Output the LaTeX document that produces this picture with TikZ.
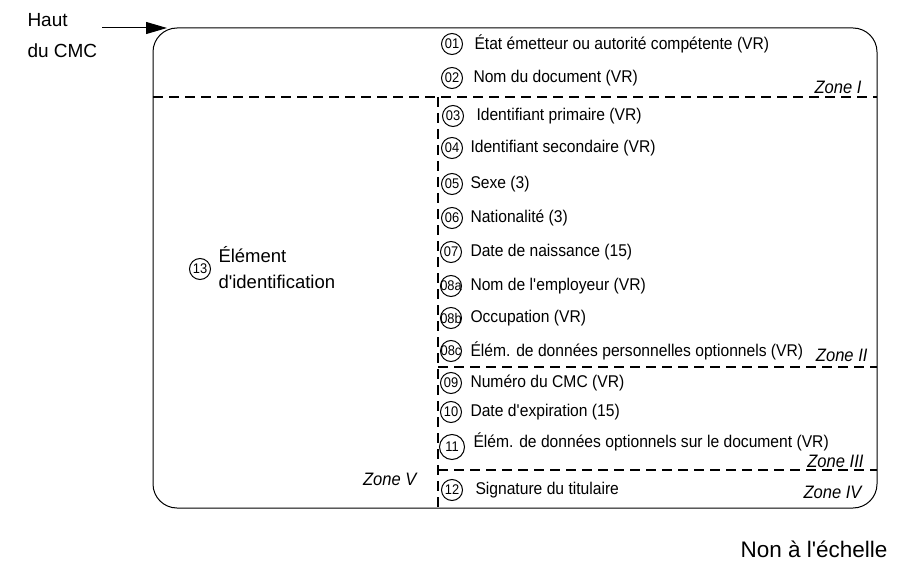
\documentclass[tikz,border=0pt]{standalone}
\usepackage{fontspec}
\setmainfont{Liberation Sans}
\newfontfamily\narrow[FakeStretch=0.92]{Liberation Sans}
\usetikzlibrary{positioning, arrows.meta}
\newcommand{\nb}[1]{\makebox[0pt]{#1}}

\begin{document}
\begin{tikzpicture}
	[x=1pt, y=-1pt, line width=1pt,
	 num/.style={draw, circle, inner sep=0pt, minimum size=21pt, font=\narrow\fontsize{14}{14}\selectfont},
	 item/.style={inner sep=0pt, font=\narrow\fontsize{17}{20}\selectfont},
	 zone/.style={inner sep=0pt, anchor=east, font=\narrow\fontsize{18}{20}\selectfont\itshape},
	 big/.style={inner sep=0pt, anchor=base west, font=\fontsize{19}{22}\selectfont},
	 sep/.style={dash pattern=on 10pt off 6pt, line width=1.2pt}]
   \useasboundingbox (0,0) rectangle (900,567);
   % card outline and zones
   \node[draw, rounded corners=24pt, minimum width=724pt, minimum height=480pt, inner sep=0pt] (card) at (515,268) {};
   \draw[sep] (153,97) -- (877,97);
   \draw[sep] (438,97) -- (438,508);
   \draw[sep] (438,367) -- (877,367);
   \draw[sep] (438,470) -- (877,470);
   % top of card
   \node[big] (haut) at (27,27) {Haut};
   \node[big] (cmc) at (27,58) {du CMC};
   \coordinate (tail) at (102,28);
   \coordinate (tip) at (167,28);
   \draw[-{Triangle[length=21pt,width=12pt]}] (tail) -- (tip);
   % zone I
   \node[num] (n01) at (452,44) {\nb{01}};
   \node[item, right=11pt of n01] {État émetteur ou autorité compétente (VR)};
   \node[num] (n02) at (452,78) {\nb{02}};
   \node[item, right=10pt of n02] {Nom du document (VR)};
   \node[zone] (z1) at (862,87) {Zone I};
   % zone II
   \node[num] (n03) at (453,116) {\nb{03}};
   \node[item, right=12pt of n03] {Identifiant primaire (VR)};
   \node[num] (n04) at (452,148) {\nb{04}};
   \node[item, right=7pt of n04] {Identifiant secondaire (VR)};
   \node[num] (n05) at (452,184) {\nb{05}};
   \node[item, right=7pt of n05] {Sexe (3)};
   \node[num] (n06) at (452,218) {\nb{06}};
   \node[item, right=7pt of n06] {Nationalité (3)};
   \node[num] (n07) at (451,252) {\nb{07}};
   \node[item, right=8pt of n07] {Date de naissance (15)};
   \node[num] (n08a) at (451,286) {\nb{08a}};
   \node[item, right=8pt of n08a] {Nom de l\textquotesingle employeur (VR)};
   \node[num] (n08b) at (451,318) {\nb{08b}};
   \node[item, right=8pt of n08b] {Occupation (VR)};
   \node[num] (n08c) at (451,351) {\nb{08c}};
   \node[item, right=8pt of n08c] {Élém. de données personnelles optionnels (VR)};
   \node[zone] (z2) at (868,355) {Zone II};
   % zone III
   \node[num] (n09) at (451,383) {\nb{09}};
   \node[item, right=8pt of n09] {Numéro du CMC (VR)};
   \node[num] (n10) at (451,412) {\nb{10}};
   \node[item, right=8pt of n10] {Date d\textquotesingle expiration (15)};
   \node[num, minimum height=25pt] (n11) at (452,447) {\nb{11}};
   \node[item, right=8pt of n11, yshift=5pt] {Élém. de données optionnels sur le document (VR)};
   \node[zone] (z3) at (864,461) {Zone III};
   % zone IV
   \node[num] (n12) at (452,490) {\nb{12}};
   \node[item, right=12pt of n12] {Signature du titulaire};
   \node[zone] (z4) at (862,492) {Zone IV};
   % zone V
   \node[num] (n13) at (200,269) {\nb{13}};
   \node[big, font=\fontsize{18.5}{22}\selectfont] (elem) at (218,262) {Élément};
   \node[big, font=\fontsize{18.5}{22}\selectfont] (ident) at (218,288) {d\textquotesingle identification};
   \node[zone] (z5) at (417,479) {Zone V};
   \node[big, anchor=base east, font=\fontsize{22.5}{26}\selectfont] (echelle) at (888,557) {Non à l\textquotesingle échelle};
\end{tikzpicture}
\end{document}
